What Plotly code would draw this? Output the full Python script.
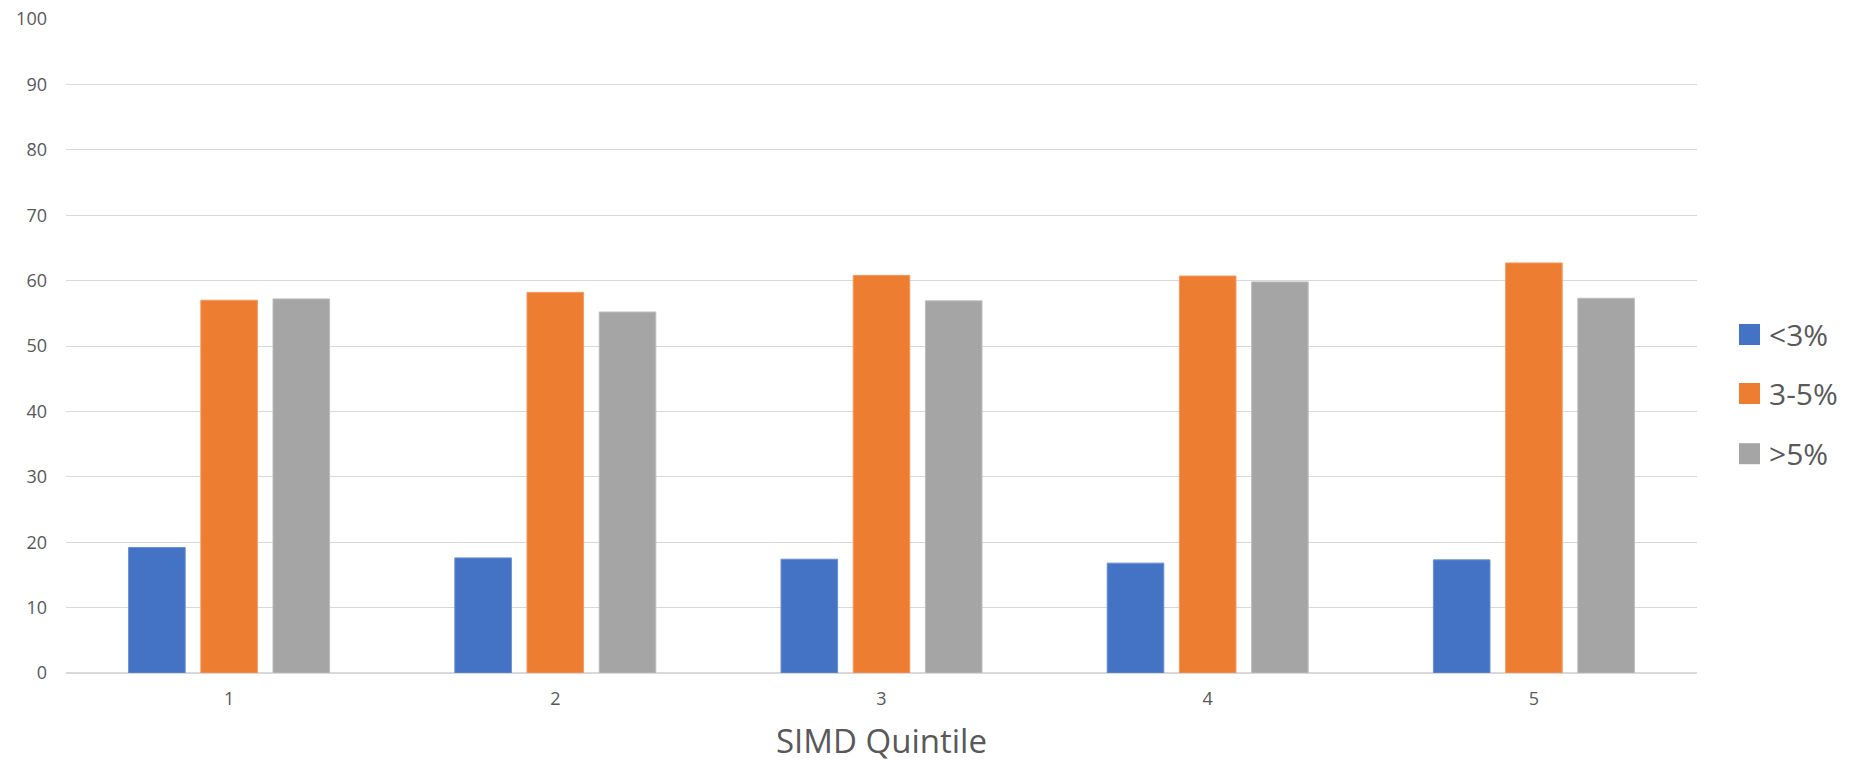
import plotly.graph_objects as go

# SIMD quintiles and share (%) in each band
quintiles = ["1", "2", "3", "4", "5"]
series_names = ["<3%", "3-5%", ">5%"]
below_3 = [19.2, 17.6, 17.4, 16.8, 17.3]
between_3_5 = [57.0, 58.2, 60.8, 60.7, 62.7]
above_5 = [57.2, 55.2, 56.9, 59.8, 57.3]
y_ticks = [0, 10, 20, 30, 40, 50, 60, 70, 80, 90, 100]

colors = ["#4472C4", "#ED7D31", "#A5A5A5"]
edge_colors = ["#6A8FD3", "#F39B62", "#BDBDBD"]
text_color = "#595959"
font_family = "Open Sans, Segoe UI, Arial, sans-serif"

W, H = 1872, 762
L, R, T, B = 66, 175, 19, 89

fig = go.Figure()
for name, vals, c, ec in zip(series_names, [below_3, between_3_5, above_5], colors, edge_colors):
    fig.add_trace(go.Bar(
        x=quintiles, y=vals, name=name,
        marker=dict(color=c, line=dict(color=ec, width=1)),
        showlegend=False,
    ))

# Legend drawn as squares and labels to the right of the plot area
plot_w = W - L - R
plot_h = H - T - B
legend_rows = [334.5, 393.5, 453.7]
sq = 21
sq_x0 = 1739
for name, c, cy in zip(series_names, colors, legend_rows):
    fig.add_shape(
        type="rect", xref="paper", yref="paper",
        x0=(sq_x0 - L) / plot_w, x1=(sq_x0 + sq - L) / plot_w,
        y0=(H - B - (cy + sq / 2)) / plot_h, y1=(H - B - (cy - sq / 2)) / plot_h,
        fillcolor=c, line=dict(width=0),
    )
    fig.add_annotation(
        xref="paper", yref="paper",
        x=(1767 - L) / plot_w, y=(H - B - cy) / plot_h,
        text=name, showarrow=False, xanchor="left", yanchor="middle",
        font=dict(size=30, color=text_color, family=font_family),
    )

# Axis title centred under the plot area
fig.add_annotation(
    xref="paper", yref="paper",
    x=0.5, y=-(740 - (H - B)) / plot_h,
    text="SIMD Quintile", showarrow=False, xanchor="center", yanchor="middle",
    font=dict(size=33, color=text_color, family=font_family),
)

fig.update_layout(
    width=W, height=H,
    margin=dict(l=L, r=R, t=T, b=B, pad=0, autoexpand=False),
    paper_bgcolor="white", plot_bgcolor="white",
    barmode="group", bargap=0.336, bargroupgap=0.216,
    font=dict(family=font_family, color=text_color),
)
fig.update_xaxes(
    type="category", automargin=False,
    showgrid=False, showline=False, zeroline=False,
    tickfont=dict(size=18, color=text_color),
    ticklabelstandoff=13,
)
fig.update_yaxes(
    range=[0, 100], tickvals=y_ticks, automargin=False,
    showgrid=True, gridcolor="#D9D9D9", gridwidth=1,
    zeroline=True, zerolinecolor="#D9D9D9", zerolinewidth=1.5,
    showline=False,
    tickfont=dict(size=18, color=text_color),
    ticklabelstandoff=18,
)

fig.write_html("out.html")
